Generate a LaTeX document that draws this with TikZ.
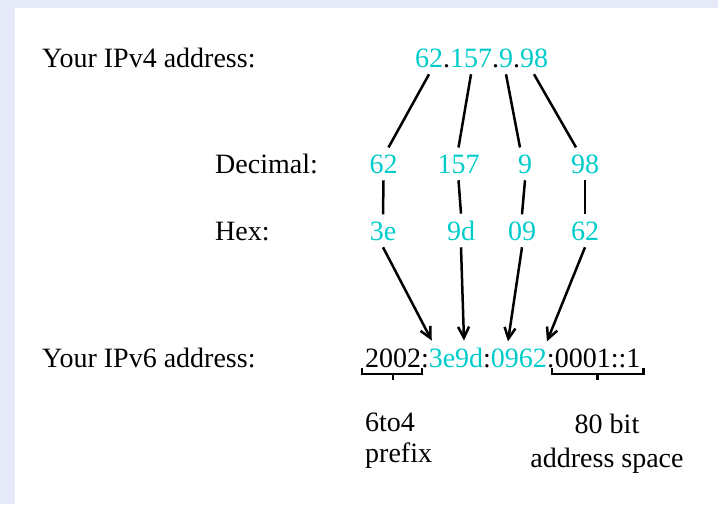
\documentclass[tikz,border=0pt]{standalone}
\usepackage{fontspec}
\setmainfont{Liberation Serif}
\usepackage{xcolor}
\usetikzlibrary{arrows.meta}
\definecolor{ipcyan}{HTML}{00CCCC}
\definecolor{pageback}{HTML}{E6E9F8}

\begin{document}
\begin{tikzpicture}[x=1pt, y=-1pt, font=\fontsize{28}{31}\selectfont,
  lab/.style={anchor=base west, inner sep=0pt},
  num/.style={text=ipcyan, inner xsep=0pt, inner ysep=7pt, outer sep=0pt, anchor=base},
  part/.style={inner xsep=0pt, inner ysep=7pt, outer sep=0pt, anchor=base west},
  link/.style={line width=2.5pt},
  tip/.style={line width=2.5pt, -{Straight Barb[length=11pt,width=11pt]}}]
  % Background
  \fill[pageback] (0,0) rectangle (718,504);
  \fill[white] (15,8) rectangle (718,504);
  \useasboundingbox (0,0) rectangle (718,504);

  % Labels
  \node[lab] (ipv4lab) at (42,67) {Your IPv4 address:};
  \node[lab] (declab) at (215,173) {Decimal:};
  \node[lab] (hexlab) at (215,240) {Hex:};
  \node[lab] (ipv6lab) at (42,367) {Your IPv6 address:};

  % IPv4 address
  \node[part, text=ipcyan] (a62) at (415,67) {62};
  \node[part] (adot1) at (a62.base east) {.};
  \node[part, text=ipcyan] (a157) at (adot1.base east) {157};
  \node[part] (adot2) at (a157.base east) {.};
  \node[part, text=ipcyan] (a9) at (adot2.base east) {9};
  \node[part] (adot3) at (a9.base east) {.};
  \node[part, text=ipcyan] (a98) at (adot3.base east) {98};

  % Decimal and hex
  \node[num] (d62) at (383.5,173) {62};
  \node[num] (d157) at (458.5,173) {157};
  \node[num] (d9) at (525,173) {9};
  \node[num] (d98) at (585,173) {98};
  \node[num] (h3e) at (383,240) {3e};
  \node[num] (h9d) at (461,240) {9d};
  \node[num] (h09) at (522,240) {09};
  \node[num] (h62) at (585,240) {62};

  % IPv6 address
  \node[part] (v2002) at (365,367) {2002};
  \node[part] (vcol1) at (v2002.base east) {:};
  \node[part, text=ipcyan] (v3e9d) at (vcol1.base east) {3e9d};
  \node[part] (vcol2) at (v3e9d.base east) {:};
  \node[part, text=ipcyan] (v0962) at (vcol2.base east) {0962};
  \node[part] (vcol3) at (v0962.base east) {:};
  \node[part] (v0001) at (vcol3.base east) {0001::1};

  % Notes
  \node[lab, align=left] (prefix) at (365,462) {6to4\\prefix};
  \node[anchor=base, inner sep=0pt, align=center] (space) at (607,467) {80 bit\\[3pt]address space};

  % Edges
  \draw[link] (a62.south) -- ([xshift=5pt]d62.north);
  \draw[link] (a157.south) -- (d157.north);
  \draw[link] (a9.south) -- ([xshift=-5pt]d9.north);
  \draw[link] (a98.south) -- ([xshift=-9pt]d98.north);
  \draw[link] (d62.south) -- (h3e.north);
  \draw[link] (d157.south) -- (h9d.north);
  \draw[link] (d9.south) -- (h09.north);
  \draw[link] (d98.south) -- (h62.north);
  \draw[tip] (h3e.south) -- ([xshift=3pt]v3e9d.north west);
  \draw[tip] (h9d.south) -- ([xshift=8pt]v3e9d.north);
  \draw[tip] (h09.south) -- ([xshift=-11pt]v0962.north);
  \draw[tip] (h62.south) -- (v0962.north east);

  % Braces
  \draw[link] ([xshift=-3pt,yshift=-1pt]v2002.base west) -- ++(0,6) -| ([xshift=1pt,yshift=-1pt]v2002.base east);
  \draw[link] ([yshift=-7pt]v2002.base) -- ++(0,6);
  \draw[link] ([xshift=-3pt,yshift=-1pt]v0001.base west) -- ++(0,6) -| ([xshift=3pt,yshift=-1pt]v0001.base east);
  \draw[link] ([yshift=-7pt]v0001.base) -- ++(0,6);
\end{tikzpicture}
\end{document}
